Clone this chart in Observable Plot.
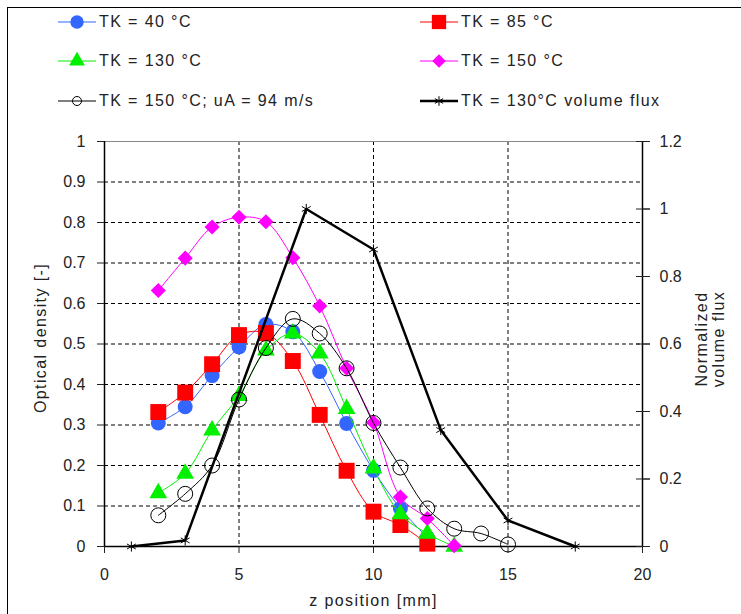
<!DOCTYPE html>
<html><head><meta charset="utf-8">
<script src="https://cdn.jsdelivr.net/npm/d3@7"></script>
<script src="https://cdn.jsdelivr.net/npm/@observablehq/plot@0.6"></script>
<style>
body{margin:0;background:#fff;font-family:"Liberation Sans",Arial,sans-serif;}
#frame{position:absolute;left:7px;top:7px;width:740px;height:620px;border-left:1.5px solid #000;border-top:1.5px solid #000;}
#legend{position:absolute;left:0;top:0;width:741px;height:120px;}
.item{position:absolute;display:flex;align-items:center;font-size:16px;color:#222;height:20px;white-space:nowrap;letter-spacing:1.4px;}
.item svg{margin-right:3px;}
#chart{position:absolute;left:0;top:120px;}
g[aria-label="text"] text{letter-spacing:1.4px;}
</style></head><body>
<div id="frame"></div>
<div id="legend"></div>
<div id="chart"></div>
<script>
// ---- data ----
const zPos = [2, 3, 4, 5, 6, 7, 8, 9, 10, 11, 12, 13, 14, 15];
const od40  = [0.305, 0.345, 0.422, 0.493, 0.548, 0.53, 0.432, 0.304, 0.188, 0.094, 0.022];
const od85  = [0.332, 0.38, 0.45, 0.522, 0.527, 0.458, 0.325, 0.187, 0.086, 0.053, 0.007];
const od130 = [0.132, 0.18, 0.287, 0.372, 0.484, 0.526, 0.477, 0.34, 0.193, 0.08, 0.032, 0.0];
const od150 = [0.632, 0.712, 0.789, 0.813, 0.802, 0.713, 0.594, 0.44, 0.306, 0.122, 0.069, 0.002];
const od150uA = [0.077, 0.13, 0.2, 0.363, 0.49, 0.562, 0.526, 0.44, 0.305, 0.195, 0.094, 0.044, 0.032, 0.005];
const fluxZ = [1, 3, 7.5, 10, 12.5, 15, 17.5];
const flux130 = [0, 0.018, 1.0, 0.88, 0.345, 0.077, 0];
const seriesNames = ["TK = 40 °C", "TK = 85 °C", "TK = 130 °C", "TK = 150 °C", "TK = 150 °C; uA = 94 m/s", "TK = 130°C volume flux"];
const xTicks = [0, 5, 10, 15, 20];
const yTicksLeft = [0, 0.1, 0.2, 0.3, 0.4, 0.5, 0.6, 0.7, 0.8, 0.9, 1];
const yTicksRight = [0, 0.2, 0.4, 0.6, 0.8, 1, 1.2];
const gridY = [0.1, 0.2, 0.3, 0.4, 0.5, 0.6, 0.7, 0.8, 0.9];
const gridX = [5, 10, 15];
const xLabel = "z position [mm]";
const yLabel = "Optical density [-]";
const y2Label = "Normalized\nvolume flux";
const fluxMax = 1.2;

const zip = vals => vals.map((v, i) => ({z: zPos[i], v}));
const styles = [
  {data: zip(od40),  color: "#3366ff", symbol: "circle", r: 7.5, fill: "#3366ff", stroke: "none"},
  {data: zip(od85),  color: "#ff0000", symbol: "square", r: 9, fill: "#ff0000", stroke: "none"},
  {data: zip(od130), color: "#00f000", symbol: "triangle", r: 6.6, fill: "#00f000", stroke: "none"},
  {data: zip(od150), color: "#ff00ff", symbol: "diamond2", r: 6.8, fill: "#ff00ff", stroke: "none"},
  {data: zip(od150uA), color: "#000", symbol: "circle", r: 7.5, fill: "none", stroke: "#000"}
];
const fluxData = fluxZ.map((z, i) => ({z, v: flux130[i]}));

// ---- legend ----
const legend = document.getElementById("legend");
const legendPos = [[58, 22], [420, 22], [58, 61], [420, 61], [58, 101], [420, 101]];
seriesNames.forEach((name, i) => {
  const [lx, ly] = legendPos[i];
  const div = document.createElement("div");
  div.className = "item";
  div.style.left = lx + "px";
  div.style.top = (ly - 10) + "px";
  let sw;
  if (i < 5) {
    const s = styles[i];
    const sym = d3.symbol(d3["symbol" + {circle: "Circle", square: "Square", triangle: "Triangle", diamond2: "Diamond2"}[s.symbol]], Math.PI * (i === 4 ? 4.5 : s.r) ** 2 * (i === 4 ? 1 : 0.8))();
    sw = `<svg width="38" height="20"><line x1="0" x2="38" y1="10" y2="10" stroke="${s.color}" stroke-width="1.2"/><path transform="translate(19,10)" d="${sym}" fill="${s.fill}" stroke="${s.stroke}"/></svg>`;
  } else {
    const sym = d3.symbol(d3.symbolAsterisk, Math.PI * 4.5 ** 2)();
    sw = `<svg width="38" height="20"><line x1="0" x2="38" y1="10" y2="10" stroke="#000" stroke-width="2.5"/><path transform="translate(19,10)" d="${sym}" fill="none" stroke="#000"/></svg>`;
  }
  div.innerHTML = sw + `<span>${name}</span>`;
  legend.appendChild(div);
});

// ---- chart ----
const lineMarks = [];
styles.forEach(s => {
  lineMarks.push(Plot.line(s.data, {x: "z", y: "v", stroke: s.color, strokeWidth: 1, curve: "catmull-rom"}));
  lineMarks.push(Plot.dot(s.data, {x: "z", y: "v", symbol: s.symbol, r: s.r, fill: s.fill, stroke: s.stroke, strokeWidth: 1}));
});

const plot = Plot.plot({
  width: 741, height: 494,
  marginLeft: 104, marginRight: 99, marginTop: 21, marginBottom: 68,
  style: {fontFamily: "'Liberation Sans', Arial, sans-serif", fontSize: "16px", color: "#222", background: "transparent", overflow: "visible"},
  x: {domain: [0, 20]},
  y: {domain: [0, 1]},
  marks: [
    Plot.ruleY(gridY, {stroke: "#000", strokeDasharray: "4,3", strokeWidth: 1}),
    Plot.ruleX(gridX, {stroke: "#000", strokeDasharray: "4,3", strokeWidth: 1}),
    Plot.ruleY([1], {stroke: "#888"}),
    Plot.ruleY([0], {stroke: "#000", strokeWidth: 1.5}),
    Plot.ruleX([0], {stroke: "#000", strokeWidth: 1.5}),
    Plot.ruleX([20], {stroke: "#000", strokeWidth: 1.5}),
    Plot.axisX({ticks: xTicks, tickSize: 7, tickPadding: 15, tickFormat: d => String(d), label: null, fill: "#222"}),
    Plot.axisY({ticks: yTicksLeft, tickSize: 7, tickPadding: 12, tickFormat: d => String(d), label: null, fill: "#222"}),
    Plot.axisY(yTicksRight.map(v => v / fluxMax), {anchor: "right", tickSize: 14, dx: -7, tickFormat: () => "", label: null}),
    Plot.axisY(yTicksRight.map(v => v / fluxMax), {anchor: "right", tickSize: 7, tickPadding: 10, tickFormat: v => String(Math.round(v * fluxMax * 10) / 10), label: null, fill: "#222"}),
    ...lineMarks,
    Plot.line(fluxData, {x: "z", y: d => d.v / fluxMax, stroke: "#000", strokeWidth: 2.5}),
    Plot.dot(fluxData, {x: "z", y: d => d.v / fluxMax, symbol: "asterisk", r: 4.8, stroke: "#000", strokeWidth: 1}),
    Plot.text([yLabel], {frameAnchor: "left", textAnchor: "middle", dx: -64, dy: -6, rotate: -90, fontSize: 16, fill: "#222"}),
    Plot.text([y2Label], {frameAnchor: "right", textAnchor: "middle", dx: 68, dy: -5, rotate: -90, fontSize: 16, fill: "#222", lineHeight: 1.05}),
    Plot.text([xLabel], {frameAnchor: "bottom", dy: 59, fontSize: 16, fill: "#222"})
  ]
});
document.getElementById("chart").appendChild(plot);
</script>
</body></html>
